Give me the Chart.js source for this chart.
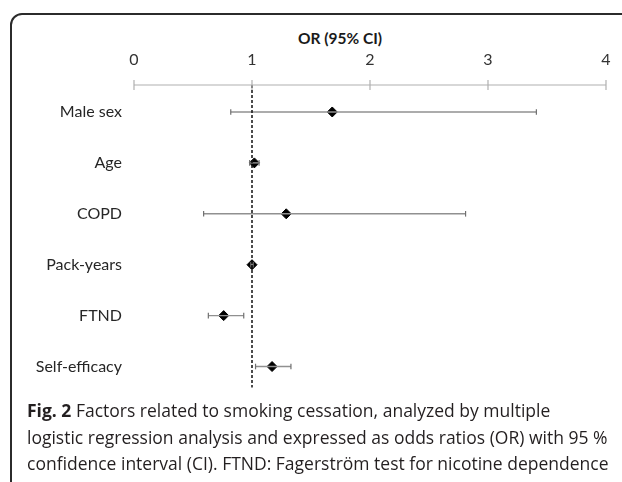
<!DOCTYPE html>
<html>
<head>
<meta charset="utf-8">
<script src="https://cdn.jsdelivr.net/npm/chart.js@4.4.1/dist/chart.umd.min.js"></script>
<style>
  html, body { margin: 0; padding: 0; background: #fff; }
  body { width: 622px; height: 482px; overflow: hidden; position: relative; }
  .frame {
    position: absolute; left: 10px; top: 13px; width: 700px; height: 560px;
    border: 2px solid #2b2b2b; border-top-left-radius: 12px; box-sizing: border-box;
  }
  .chart-title {
    position: absolute; left: 240px; width: 200px; top: 28px; text-align: center;
    font-family: Lato, sans-serif; font-weight: 700; font-size: 15.5px; line-height: 20px; color: #1a1a1a;
  }
  .chart-box { position: absolute; left: 12px; top: 15px; width: 656px; height: 394px; }
  .caption {
    position: absolute; left: 27px; top: 397px; white-space: nowrap;
    font-family: "Open Sans", sans-serif; font-size: 17.5px; line-height: 26.5px; color: #231f20;
  }
  .caption b { font-weight: 700; }
</style>
</head>
<body>
<div class="frame"></div>
<div class="chart-title">OR (95% CI)</div>
<div class="chart-box"><canvas id="forestChart"></canvas></div>
<div class="caption">
  <b>Fig. 2</b> Factors related to smoking cessation, analyzed by multiple<br>
  logistic regression analysis and expressed as odds ratios (OR) with 95 %<br>
  confidence interval (CI). FTND: Fagerström test for nicotine dependence
</div>
<script>
// Data
const categories = ['Male sex', 'Age', 'COPD', 'Pack-years', 'FTND', 'Self-efficacy'];
const oddsRatios = [1.68, 1.02, 1.29, 1.00, 0.76, 1.17];
const ciLow = [0.82, 0.98, 0.59, 0.99, 0.63, 1.03];
const ciHigh = [3.41, 1.06, 2.81, 1.01, 0.93, 1.33];
const xTicks = [0, 1, 2, 3, 4];

const yTop = 0.47;     // row position of the axis line
const yBottom = 6.41;  // end of the reference line
const labelFont = { family: 'Lato, sans-serif', size: 16 };

const datasets = [];

// axis line with tick marks
datasets.push({
  data: xTicks.map(v => ({ x: v, y: yTop })),
  showLine: true,
  borderColor: '#b0b0b0',
  borderWidth: 1.2,
  pointStyle: 'line',
  rotation: 90,
  pointRadius: 5,
  pointBorderColor: '#b0b0b0',
  pointBorderWidth: 1.2,
  clip: false
});

// reference line at OR = 1
datasets.push({
  data: [{ x: 1, y: yTop }, { x: 1, y: yBottom }],
  showLine: true,
  borderColor: '#111',
  borderWidth: 1.5,
  borderDash: [3, 2],
  pointRadius: 0,
  clip: false
});

// confidence intervals
categories.forEach((c, i) => {
  datasets.push({
    data: [{ x: ciLow[i], y: i + 1 }, { x: ciHigh[i], y: i + 1 }],
    showLine: true,
    borderColor: '#909090',
    borderWidth: 1.4,
    pointStyle: 'line',
    rotation: 90,
    pointRadius: 2.8,
    pointBorderColor: '#707070',
    pointBorderWidth: 1.2,
    clip: false
  });
});

// point estimates
datasets.push({
  data: categories.map((c, i) => ({ x: oddsRatios[i], y: i + 1 })),
  pointStyle: 'rectRot',
  pointRadius: 5,
  backgroundColor: '#000',
  borderColor: '#000',
  pointBorderWidth: 1,
  clip: false
});

const ctx = document.getElementById('forestChart').getContext('2d');
const forestChart = new Chart(ctx, {
  type: 'scatter',
  data: { datasets: datasets },
  options: {
    responsive: true,
    maintainAspectRatio: false,
    animation: false,
    layout: { padding: { left: 0, right: 62, top: 0, bottom: 0 } },
    plugins: {
      legend: { display: false },
      tooltip: { enabled: false }
    },
    scales: {
      x: {
        type: 'linear',
        position: 'top',
        min: 0,
        max: 4,
        afterBuildTicks: axis => { axis.ticks = xTicks.map(v => ({ value: v })); },
        ticks: { color: '#333', font: labelFont, padding: 16 },
        grid: { display: false, drawTicks: false },
        border: { display: false },
        afterFit: axis => { axis.height = 70; }
      },
      y: {
        type: 'linear',
        reverse: true,
        min: yTop,
        max: yBottom,
        afterBuildTicks: axis => { axis.ticks = categories.map((c, i) => ({ value: i + 1 })); },
        ticks: {
          color: '#262626',
          font: labelFont,
          padding: 12,
          callback: v => categories[v - 1] || ''
        },
        grid: { display: false, drawTicks: false },
        border: { display: false },
        afterFit: axis => { axis.width = 122; }
      }
    }
  }
});
</script>
</body>
</html>
